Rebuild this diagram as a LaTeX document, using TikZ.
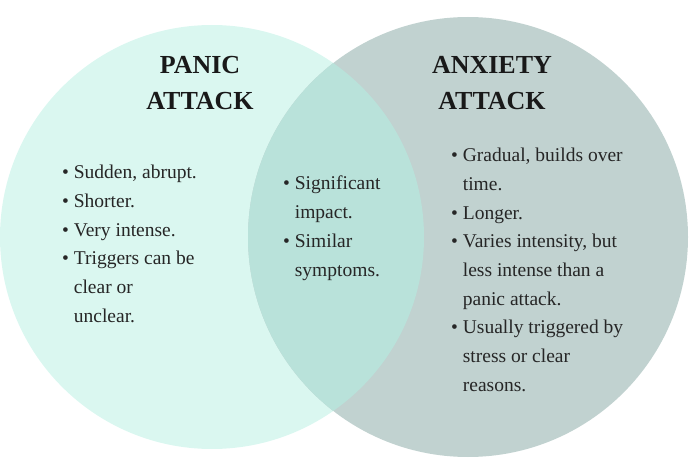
\documentclass[tikz,border=0pt]{standalone}
\usepackage{fontspec}
\setmainfont{Liberation Serif}
\definecolor{lc}{HTML}{DAF7F0}
\definecolor{rc}{HTML}{C1D2D0}
\definecolor{oc}{HTML}{B9E2DA}
\begin{document}
\begin{tikzpicture}[x=1pt,y=-1pt,
  txt/.style={anchor=north west,align=left,inner sep=0pt,font=\fontsize{19.5}{28.7}\selectfont,text=black!85},
  ttl/.style={align=center,inner sep=0pt,font=\bfseries\fontsize{26}{36}\selectfont,text=black!90}]
\useasboundingbox (0,0) rectangle (691,468);
\fill[lc] (212,237) circle (212);
\fill[rc] (468,237) circle (220);
\begin{scope}
\clip (212,237) circle (212);
\fill[oc] (468,237) circle (220);
\end{scope}
\node[ttl] (t1) at (200,83) {PANIC\\ATTACK};
\node[ttl] (t2) at (492,83) {ANXIETY\\ATTACK};
\newcommand{\bl}{\textbullet\ }
\newcommand{\ind}{\hphantom{\textbullet\ }}
\node[txt] (l) at (62,165) {\bl Sudden, abrupt.\\\bl Shorter.\\\bl Very intense.\\\bl Triggers can be\\\ind clear or\\\ind unclear.};
\node[txt] (m) at (283,176) {\bl Significant\\\ind impact.\\\bl Similar\\\ind symptoms.};
\node[txt] (r) at (451,148) {\bl Gradual, builds over\\\ind time.\\\bl Longer.\\\bl Varies intensity, but\\\ind less intense than a\\\ind panic attack.\\\bl Usually triggered by\\\ind stress or clear\\\ind reasons.};
\end{tikzpicture}
\end{document}
